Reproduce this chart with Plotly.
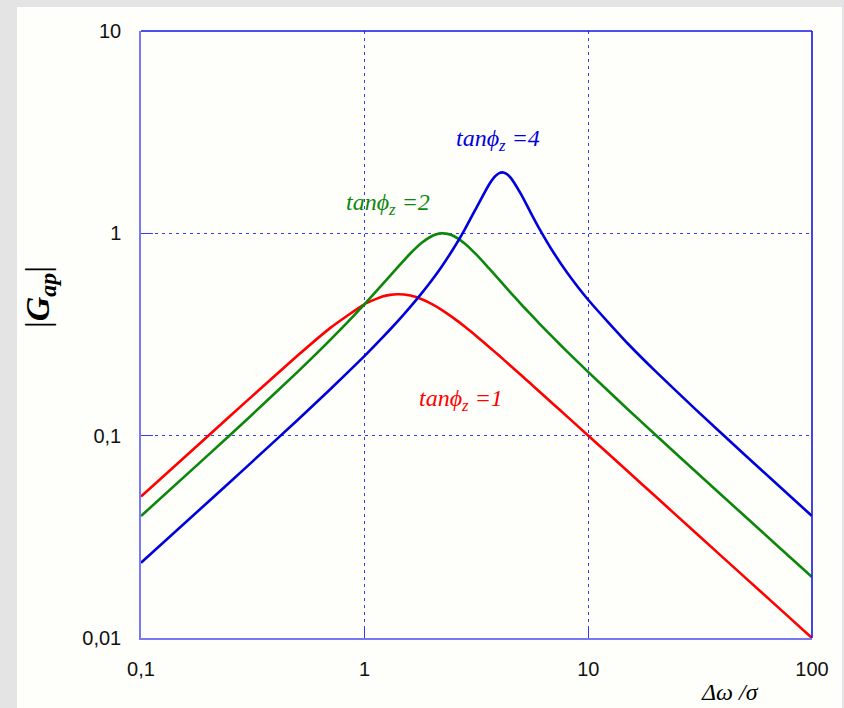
import plotly.graph_objects as go

# ---- data (log-log) ----
x_red = [0.1, 0.2, 0.3, 0.5, 0.7, 1, 1.2, 1.3, 1.4, 1.5, 1.6, 1.8, 2, 2.2, 2.5, 2.8, 3.2, 3.6, 4, 4.5, 5, 5.5, 6, 7, 8, 10, 15, 20, 30, 50, 70, 100]
y_red = [0.0500, 0.1000, 0.1498, 0.2481, 0.3400, 0.4472, 0.4869, 0.4965, 0.4999, 0.4983, 0.4925, 0.4727, 0.4472, 0.4201, 0.3810, 0.3461, 0.3067, 0.2745, 0.2481, 0.2211, 0.1994, 0.1814, 0.1664, 0.1427, 0.1249, 0.1000, 0.0667, 0.0500, 0.0333, 0.0200, 0.01429, 0.0100]

x_green = [0.1, 0.2, 0.3, 0.5, 0.7, 1, 1.2, 1.4, 1.6, 1.8, 2, 2.1, 2.2, 2.236, 2.35, 2.5, 2.8, 3.2, 3.6, 4, 4.5, 5, 5.5, 6, 7, 8, 10, 15, 20, 30, 50, 70, 100]
y_green = [0.04005, 0.0804, 0.1213, 0.2060, 0.2965, 0.4472, 0.5590, 0.6775, 0.7952, 0.8984, 0.9701, 0.9903, 0.9993, 1.0000, 0.9939, 0.9701, 0.8919, 0.7737, 0.6708, 0.5882, 0.5083, 0.4472, 0.3994, 0.3610, 0.3032, 0.2617, 0.2060, 0.1351, 0.1008, 0.06689, 0.04005, 0.02859, 0.02001]

x_blue = [0.1, 0.2, 0.3, 0.5, 0.7, 1, 1.2, 1.4, 1.6, 1.8, 2, 2.2, 2.5, 2.8, 3.2, 3.6, 3.8, 3.9, 4, 4.12, 4.2, 4.3, 4.5, 5, 5.5, 6, 7, 8, 10, 15, 20, 30, 50, 70, 100]
y_blue = [0.02354, 0.04716, 0.07092, 0.1192, 0.1690, 0.2481, 0.3049, 0.3661, 0.4327, 0.5062, 0.5882, 0.6805, 0.8435, 1.0432, 1.3750, 1.7442, 1.8954, 1.9493, 1.9846, 2.0000, 1.9942, 1.9706, 1.8811, 1.5617, 1.2775, 1.0680, 0.8016, 0.6445, 0.4685, 0.2855, 0.2077, 0.1356, 0.08048, 0.05732, 0.04006]

x_tickvals = [0.1, 1, 10, 100]
x_ticktext = ["0,1", "1", "10", "100"]
y_tickvals = [0.01, 0.1, 1, 10]
y_ticktext = ["0,01", "0,1", "1", "10"]

labels = ["tanϕ", "tanϕ", "tanϕ"]
label_vals = ["=1", "=2", "=4"]
colors = ["#FF0000", "#0C870C", "#0000DD"]

# ---- layout geometry ----
W, H = 844, 708
L, R, T, B = 141, 812, 31, 638
PW, PH = R - L, B - T


def pp(px, py):
    return (px - L) / PW, (B - py) / PH


fig = go.Figure()
for xs, ys, c in [(x_red, y_red, colors[0]), (x_green, y_green, colors[1]), (x_blue, y_blue, colors[2])]:
    fig.add_trace(go.Scatter(x=xs, y=ys, mode="lines", line=dict(color=c, width=2.6, shape="spline", smoothing=0.5),
                             showlegend=False, hoverinfo="skip"))

bg = "#FEFEFA"
axis_common = dict(
    type="log", showline=True, linecolor="#7878F2", linewidth=1.5,
    showgrid=True, gridcolor="#3A3AFF", griddash="3px,4px", gridwidth=1.3,
    ticks="inside", ticklen=12, tickcolor="#3A3AFF", zeroline=False,
    tickfont=dict(family="Liberation Sans, Arial", size=20, color="#111111"),
)

fig.update_xaxes(range=[-1, 2], tickvals=x_tickvals, ticktext=x_ticktext, ticklabelstandoff=12, **axis_common)
fig.update_yaxes(range=[-2, 1], tickvals=y_tickvals, ticktext=y_ticktext, ticklabelstandoff=14, **axis_common)

x0, y0 = pp(340, 180)
x1, y1 = pp(452, 237)
shapes = [
    # white panel on grey background
    dict(type="rect", xref="paper", yref="paper", layer="below",
         x0=pp(17, 0)[0], x1=pp(842, 0)[0], y0=pp(0, 708)[1], y1=pp(0, 7)[1],
         fillcolor=bg, line=dict(width=0)),
    # box behind the green label (hides grid there)
    dict(type="rect", xref="paper", yref="paper", layer="between",
         x0=x0, x1=x1, y0=y1, y1=y0, fillcolor=bg, line=dict(width=0)),
    # top and right frame lines
    dict(type="line", xref="paper", yref="paper", x0=0, x1=1, y0=1, y1=1, line=dict(color="#1515E6", width=1.6)),
    dict(type="line", xref="paper", yref="paper", x0=1, x1=1, y0=0, y1=1, line=dict(color="#1515E6", width=1.6)),
]

font_serif = "Liberation Serif, Times New Roman, serif"
annotations = []
for (cx, cy), c, lab, v in [((461, 400), colors[0], labels[0], label_vals[0]),
                            ((388, 204), colors[1], labels[1], label_vals[1]),
                            ((498, 140), colors[2], labels[2], label_vals[2])]:
    ax, ay = pp(cx, cy)
    annotations.append(dict(xref="paper", yref="paper", x=ax, y=ay, xanchor="center", yanchor="middle",
                            showarrow=False,
                            text=f"<i>{lab}</i><sub><i>z</i></sub><i> {v}</i>",
                            font=dict(family=font_serif, size=24, color=c)))

ax, ay = pp(40, 297)
annotations.append(dict(xref="paper", yref="paper", x=ax, y=ay, xanchor="center", yanchor="middle",
                        showarrow=False, textangle=-90,
                        text="|<b><i>G</i></b><sub><b><i>ap</i></b></sub>|",
                        font=dict(family=font_serif, size=34, color="#000000")))
ax, ay = pp(730, 692)
annotations.append(dict(xref="paper", yref="paper", x=ax, y=ay, xanchor="center", yanchor="middle",
                        showarrow=False, text="<i>Δω /σ</i>",
                        font=dict(family=font_serif, size=24, color="#000000")))

fig.update_layout(
    width=W, height=H,
    margin=dict(l=L, r=W - R, t=T, b=H - B),
    paper_bgcolor="#E4E4E4", plot_bgcolor=bg,
    shapes=shapes, annotations=annotations,
    showlegend=False,
)

fig.write_html("out.html")
